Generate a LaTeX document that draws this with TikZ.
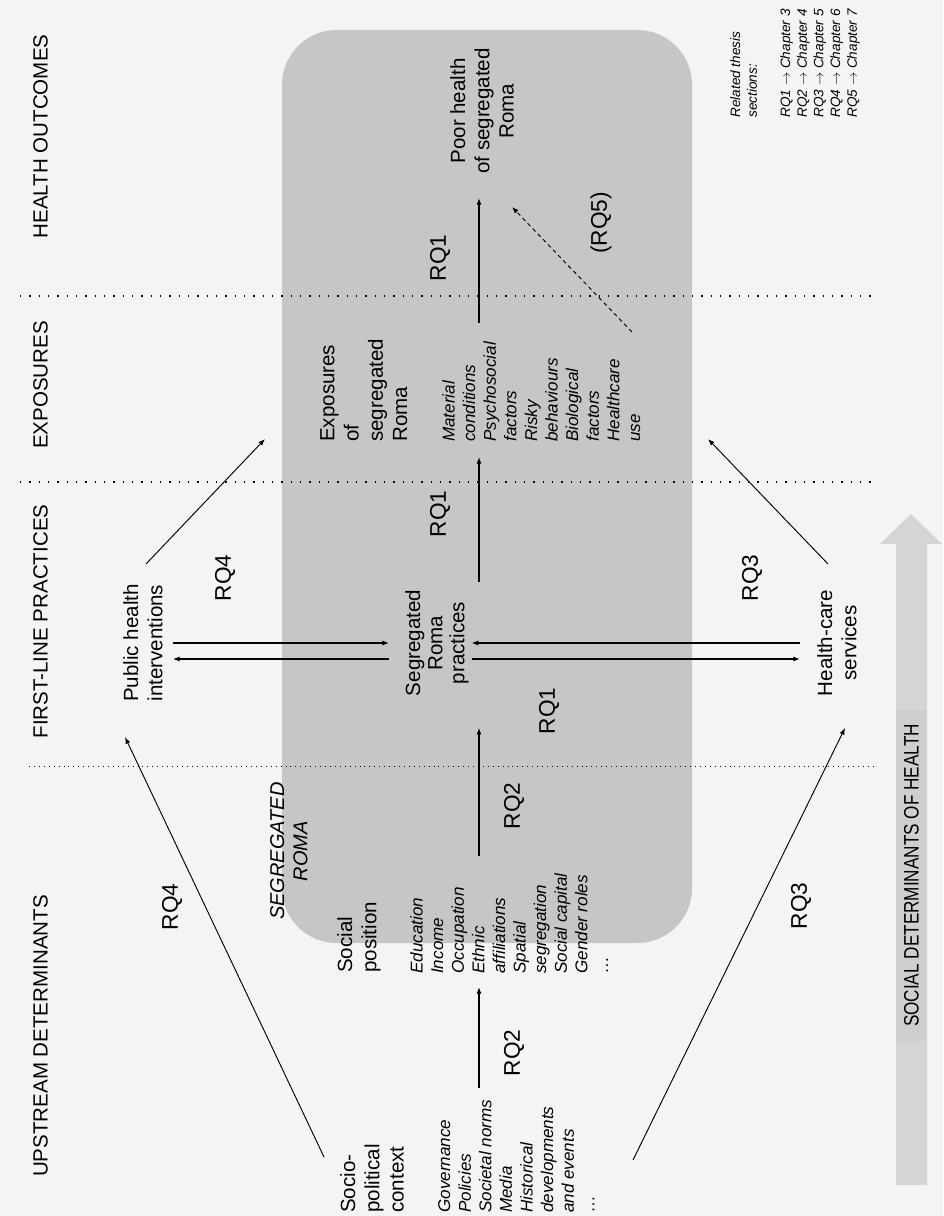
\documentclass[tikz,border=0pt]{standalone}
\usepackage{fontspec}
\setmainfont{Liberation Sans}
\newfontfamily\narrowfont[FakeStretch=0.82]{Liberation Sans}
\usetikzlibrary{arrows.meta}
\definecolor{bgc}{RGB}{244,244,244}
\definecolor{boxc}{RGB}{198,198,198}
\definecolor{shaftc}{RGB}{213,213,213}
\definecolor{shaftdark}{RGB}{206,206,206}

\begin{document}
\begin{tikzpicture}[x=0.75pt,y=0.75pt,yscale=-1,xscale=1,
	hdr/.style={rotate=90,inner sep=0pt,font=\fontsize{15.4}{18}\selectfont},
	lbl/.style={rotate=90,inner sep=0pt,align=center,anchor=north,font=\fontsize{15.4}{18.2}\selectfont},
	lblleft/.style={rotate=90,inner sep=0pt,align=left,anchor=north west,font=\fontsize{15.4}{18.2}\selectfont},
	lst/.style={rotate=90,inner sep=0pt,align=left,anchor=north west,font=\itshape\fontsize{12.8}{15.45}\selectfont},
	rq/.style={rotate=90,inner sep=0pt,font=\fontsize{17}{20}\selectfont},
	arr/.style={-{Latex[length=5pt,width=3.8pt]},line width=0.9pt},
	diag/.style={-{Latex[length=5pt,width=3.8pt]},line width=0.7pt},
	divider/.style={line width=1.1pt,dash pattern=on 1.1pt off 5.9pt},
	divfine/.style={line width=0.7pt,dash pattern=on 0.7pt off 3pt}]
	%uncomment if require: \path (0,1216); %set diagram left start at 0, and has height of 1216
	\useasboundingbox (0,0) rectangle (943,1216);
	\fill[bgc] (0,0) rectangle (943,1216);
	
	%Shape: Rounded Rect
	\fill[boxc] [rounded corners=41pt] (282,30) rectangle (692,943);
	%Shape: Big arrow
	\fill[shaftc] (896,1185) -- (896,544) -- (880,544) -- (911,514) -- (942,544) -- (927,544) -- (927,1185) -- cycle;
	
	%Dotted Lines
	\draw[divider] (20,296) -- (873,296);
	\draw[divider] (20,482) -- (873,482);
	\draw[divfine] (29,766) -- (876,766);
	
	% Text Node
	\node[hdr] (hout) at (40.5,136.5) {HEALTH OUTCOMES};
	\node[hdr] (hexp) at (40.5,385) {EXPOSURES};
	\node[hdr] (hflp) at (40.5,621.5) {FIRST-LINE PRACTICES};
	\node[hdr] (hups) at (40.5,1036) {UPSTREAM DETERMINANTS};
	
	% Text Node
	\node[lbl] (poor) at (450,111) {Poor health\\of segregated\\Roma};
	\node[lblleft] (expo) at (320,442) {Exposures\\of\\segregated\\Roma};
	\node[lst] (expolist) at (442,442) {Material\\conditions\\Psychosocial\\factors\\Risky\\behaviours\\Biological\\factors\\Healthcare\\use};
	\node[lbl,font=\fontsize{15.4}{16.6}\selectfont] (pract) at (405,643) {Segregated\\Roma\\practices};
	\node[lbl] (pub) at (123,643) {Public health\\interventions};
	\node[lbl] (hcs) at (817,643) {Health-care\\services};
	\node[lbl,font=\itshape\fontsize{15}{17.3}\selectfont] (segroma) at (270,851) {SEGREGATED\\ROMA};
	\node[lblleft] (social) at (337,973) {Social\\position};
	\node[lst] (edulist) at (410,974) {Education\\Income\\Occupation\\Ethnic\\affiliations\\Spatial\\segregation\\Social capital\\Gender roles\\…};
	\node[lblleft] (ctx) at (340,1213) {Socio-\\political\\context};
	\node[lst] (govlist) at (438,1213) {Governance\\Policies\\Societal norms\\Media\\Historical\\developments\\and events\\…};
	\node[lst,font=\itshape\fontsize{10.2}{12.5}\selectfont] (related) at (730,118) {Related thesis\\sections:\\[12.5pt]RQ1 $\rightarrow$ Chapter 3\\RQ2 $\rightarrow$ Chapter 4\\RQ3 $\rightarrow$ Chapter 5\\RQ4 $\rightarrow$ Chapter 6\\RQ5 $\rightarrow$ Chapter 7};
	\node[rotate=90,inner sep=0pt,fill=shaftdark,minimum width=248pt,minimum height=23.25pt,font=\narrowfont\fontsize{15.7}{18}\selectfont] (sdh) at (911.5,875.5) {SOCIAL DETERMINANTS OF HEALTH};
	
	% RQ labels
	\node[rq] (rqA) at (440,258) {RQ1};
	\node[rq] (rqB) at (601,223) {(RQ5)};
	\node[rq] (rqC) at (440,514) {RQ1};
	\node[rq] (rqD) at (225,578) {RQ4};
	\node[rq] (rqE) at (752,578) {RQ3};
	\node[rq] (rqF) at (549,711) {RQ1};
	\node[rq] (rqG) at (514,806) {RQ2};
	\node[rq] (rqH) at (514,1053) {RQ2};
	\node[rq] (rqI) at (172,907) {RQ4};
	\node[rq] (rqJ) at (801,906) {RQ3};
	
	% ports
	\coordinate (col) at (479,0);
	\coordinate (ctxUp) at (324,1157);
	\coordinate (pubIn) at (125,737);
	\coordinate (ctxDown) at (633,1160);
	\coordinate (hcsIn) at (845,728);
	\coordinate (pubOut) at (146,564);
	\coordinate (expoInL) at (265,439);
	\coordinate (hcsOut) at (828,564);
	\coordinate (expoInR) at (708,439);
	\coordinate (rqfiveTail) at (632,332);
	\coordinate (poorIn) at (512,207);
	
	%Straight Lines
	\draw[arr,shorten <=7.5pt,shorten >=12pt] (pub) -- (pract);
	\draw[arr,shorten <=12pt,shorten >=7.5pt,transform canvas={yshift=-12pt}] (pract) -- (pub);
	\draw[arr,shorten <=12.75pt,shorten >=2pt] (hcs) -- (pract);
	\draw[arr,shorten <=2pt,shorten >=12.75pt,transform canvas={yshift=-12pt}] (pract) -- (hcs);
	
	\draw[arr,shorten <=9pt,shorten >=9.75pt] (govlist.east -| col) -- (edulist.west -| col);
	\draw[arr,shorten <=12.75pt,shorten >=23.6pt] (edulist.east -| col) -- (pract.west -| col);
	\draw[arr,shorten <=5.6pt,shorten >=11.25pt] (pract.east -| col) -- (expolist.west -| col);
	\draw[arr,shorten <=14.25pt,shorten >=18pt] (expolist.east -| col) -- (poor.west -| col);
	
	\draw[diag] (ctxUp) -- (pubIn);
	\draw[diag] (ctxDown) -- (hcsIn);
	\draw[diag] (pubOut) -- (expoInL);
	\draw[diag] (hcsOut) -- (expoInR);
	\draw[diag,dash pattern=on 3pt off 2.5pt] (rqfiveTail) -- (poorIn);
\end{tikzpicture}
\end{document}
